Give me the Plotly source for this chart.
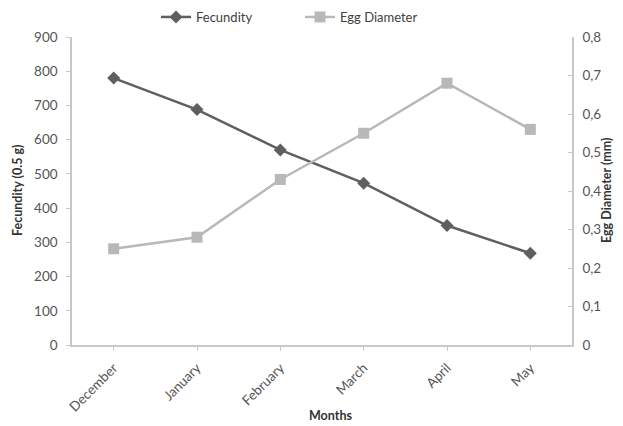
import plotly.graph_objects as go

months = ["December", "January", "February", "March", "April", "May"]
fecundity = [780, 688, 570, 473, 349, 268]
egg_diameter = [0.25, 0.28, 0.43, 0.55, 0.68, 0.56]

dark = "#5f5f5f"
light = "#b8b8b8"
axis_col = "#c8c8c8"
text_col = "#555555"
title_col = "#333333"
FONT = "Lato, Open Sans, sans-serif"

# figure size compensates for the 8px default page margin
W, H = 615, 418
L, R, T, B = 64, 51, 29, 81
PW, PH = W - L - R, H - T - B

fig = go.Figure()
fig.add_trace(go.Scatter(
    x=months, y=fecundity, name="Fecundity", mode="lines+markers",
    line=dict(color=dark, width=2.5),
    marker=dict(symbol="diamond", size=10, color=dark),
))
fig.add_trace(go.Scatter(
    x=months, y=egg_diameter, name="Egg Diameter", mode="lines+markers",
    line=dict(color=light, width=2.5),
    marker=dict(symbol="square", size=11, color=light),
    yaxis="y2",
))

def px_x(x):
    return (x - L) / PW

def px_y(y):
    return (H - B - y) / PH

title_common = dict(xref="paper", yref="paper", showarrow=False,
                    xanchor="center", yanchor="middle",
                    font=dict(size=12.5, color=title_col))

fig.update_layout(
    width=W, height=H,
    margin=dict(l=L, r=R, t=T, b=B),
    paper_bgcolor="white", plot_bgcolor="white",
    separators=",.",
    font=dict(family=FONT, size=13.5, color=text_col),
    showlegend=True,
    legend=dict(orientation="h", x=148 / W, y=1 - 9 / H, xref="container", yref="container",
                xanchor="left", yanchor="middle",
                font=dict(size=13, color="#404040"), itemwidth=30,
                entrywidth=99, entrywidthmode="pixels",
                bgcolor="rgba(0,0,0,0)"),
    xaxis=dict(
        range=[-0.5, 5.5], showline=True, linecolor=axis_col, linewidth=1.5,
        ticks="outside", tickcolor=axis_col, ticklen=4, tickangle=-45,
        ticklabelstandoff=4,
        showgrid=False, zeroline=False, automargin=False,
    ),
    yaxis=dict(
        range=[0, 900], dtick=100, showline=True, linecolor=axis_col, linewidth=1.5,
        ticks="outside", tickcolor=axis_col, ticklen=4, ticklabelstandoff=6,
        showgrid=False, zeroline=False, automargin=False,
    ),
    yaxis2=dict(
        range=[0, 0.8], dtick=0.1, overlaying="y", side="right",
        showline=True, linecolor=axis_col, linewidth=1.5,
        ticks="inside", tickcolor=axis_col, ticklen=4, ticklabelstandoff=6,
        showgrid=False, zeroline=False, automargin=False,
    ),
    annotations=[
        dict(text="<b>Months</b>", x=px_x(322), y=px_y(407), **title_common),
        dict(text="<b>Fecundity (0.5 g)</b>", x=px_x(9), y=px_y(182), textangle=-90, **title_common),
        dict(text="<b>Egg Diameter (mm)</b>", x=px_x(598), y=px_y(182), textangle=-90, **title_common),
    ],
)

fig.write_html("out.html")
